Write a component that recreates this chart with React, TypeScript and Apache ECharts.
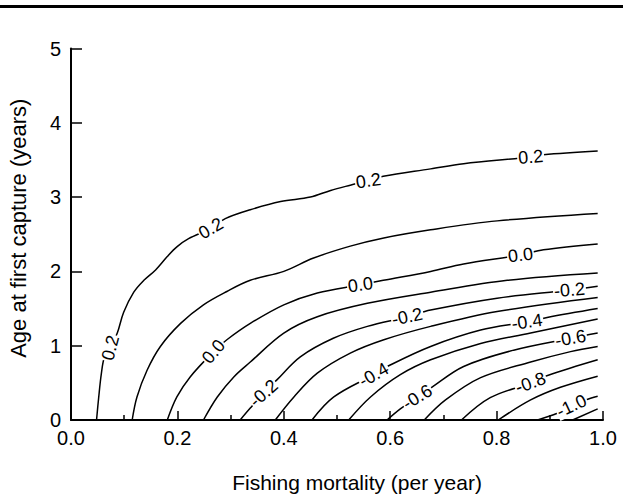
import React, { useEffect, useRef } from "react";
import * as echarts from "echarts";

// Contour lines: [fishing mortality, age at first capture]
const level_p02 = [[0.048,0],[0.052,0.30],[0.057,0.62],[0.063,0.85],[0.074,0.97],[0.087,1.17],[0.099,1.45],[0.118,1.72],[0.137,1.88],[0.159,2.02],[0.181,2.2],[0.199,2.33],[0.221,2.44],[0.263,2.58],[0.29,2.71],[0.337,2.83],[0.394,2.94],[0.45,3.0],[0.488,3.09],[0.525,3.16],[0.559,3.22],[0.587,3.28],[0.676,3.38],[0.738,3.45],[0.864,3.54],[0.888,3.57],[0.99,3.62]];
const level_p01 = [[0.115,0],[0.124,0.31],[0.143,0.67],[0.168,0.99],[0.206,1.30],[0.249,1.55],[0.293,1.73],[0.337,1.88],[0.400,2.00],[0.456,2.18],[0.525,2.34],[0.588,2.45],[0.676,2.56],[0.801,2.68],[0.99,2.78]];
const level_000 = [[0.181,0],[0.199,0.31],[0.224,0.58],[0.268,0.92],[0.293,1.08],[0.337,1.30],[0.400,1.55],[0.463,1.71],[0.544,1.82],[0.587,1.88],[0.676,2.00],[0.738,2.10],[0.845,2.22],[0.888,2.29],[0.99,2.37]];
const level_m01 = [[0.249,0],[0.275,0.31],[0.306,0.58],[0.337,0.78],[0.400,1.17],[0.463,1.39],[0.557,1.57],[0.676,1.72],[0.820,1.88],[0.99,1.98]];
const level_m02 = [[0.318,0],[0.337,0.16],[0.362,0.36],[0.387,0.54],[0.431,0.85],[0.493,1.10],[0.557,1.26],[0.632,1.39],[0.676,1.48],[0.801,1.64],[0.937,1.75],[0.99,1.80]];
const level_m03 = [[0.384,0],[0.419,0.31],[0.463,0.63],[0.525,0.90],[0.588,1.08],[0.676,1.26],[0.801,1.46],[0.99,1.65]];
const level_m04 = [[0.453,0],[0.494,0.31],[0.569,0.61],[0.600,0.74],[0.676,0.99],[0.770,1.21],[0.857,1.32],[0.895,1.38],[0.99,1.50]];
const level_m05 = [[0.522,0],[0.563,0.31],[0.619,0.61],[0.676,0.81],[0.770,1.03],[0.864,1.17],[0.99,1.36]];
const level_m06 = [[0.594,0],[0.619,0.15],[0.651,0.31],[0.676,0.43],[0.738,0.72],[0.832,0.94],[0.939,1.10],[0.99,1.17]];
const level_m07 = [[0.664,0],[0.704,0.27],[0.770,0.57],[0.864,0.78],[0.939,0.92],[0.99,0.99]];
const level_m08 = [[0.734,0],[0.788,0.30],[0.864,0.50],[0.888,0.58],[0.939,0.70],[0.99,0.81]];
const level_m09 = [[0.803,0],[0.864,0.27],[0.920,0.44],[0.99,0.59]];
const level_m10 = [[0.877,0],[0.914,0.09],[0.941,0.19],[0.967,0.27],[0.99,0.32]];
const level_m11 = [[0.943,0],[0.99,0.15]];

const contourLines = [level_p02, level_p01, level_000, level_m01, level_m02, level_m03, level_m04, level_m05, level_m06, level_m07, level_m08, level_m09, level_m10, level_m11];

// Contour labels
const labelText = ["0.2","0.2","0.2","0.2","0.0","0.0","0.0","-0.2","-0.2","-0.2","-0.4","-0.4","-0.6","-0.6","-0.8","-1.0"];
const labelX = [0.074,0.263,0.559,0.864,0.268,0.544,0.845,0.362,0.632,0.937,0.569,0.857,0.651,0.939,0.864,0.941];
const labelY = [0.97,2.58,3.22,3.54,0.92,1.82,2.22,0.36,1.39,1.75,0.61,1.32,0.31,1.10,0.50,0.19];
const labelAngle = [75,30,8,5,50,8,7,42,12,5,30,8,32,10,20,25];

const xTicks = [0, 0.2, 0.4, 0.6, 0.8, 1.0];
const yTicks = [0, 1, 2, 3, 4, 5];

const FONT = "'Liberation Sans', Arial, Helvetica, sans-serif";

export default function App() {
  const ref = useRef<HTMLDivElement>(null);
  useEffect(() => {
    document.body.style.margin = "0";
    const chart = echarts.init(ref.current!, null, { renderer: "svg" });
    const lineSeries = contourLines.map((pts) => ({
      type: "line",
      data: pts,
      showSymbol: false,
      symbol: "none",
      smooth: 0.35,
      lineStyle: { color: "#000", width: 1.5 },
      z: 2,
      silent: true,
    }));
    const labelSeries = {
      type: "scatter",
      symbol: "circle",
      symbolSize: 0,
      itemStyle: { color: "rgba(0,0,0,0)" },
      z: 5,
      silent: true,
      data: labelText.map((t, i) => ({
        value: [labelX[i], labelY[i]],
        name: t,
        label: { rotate: labelAngle[i] },
      })),
      label: {
        show: true,
        position: "inside",
        formatter: (p: any) => p.name,
        color: "#000",
        opacity: 1,
        textBorderWidth: 0,
        fontSize: 18,
        fontFamily: FONT,
        backgroundColor: "#fff",
        padding: [0, 1, 0, 1],
      },
    };
    chart.setOption({
      animation: false,
      backgroundColor: "#fff",
      grid: { left: 71, right: 20, top: 48.5, bottom: 77, containLabel: false, outerBoundsMode: "none" },
      xAxis: {
        type: "value",
        min: xTicks[0],
        max: xTicks[xTicks.length - 1],
        interval: 0.2,
        name: "Fishing mortality (per year)",
        nameLocation: "middle",
        nameGap: 52,
        nameTextStyle: { fontSize: 21, fontFamily: FONT, color: "#000", padding: [0, 0, 0, 40] },
        axisLine: { show: true, onZero: false, lineStyle: { color: "#000", width: 2 } },
        axisTick: { show: true, inside: true, length: 9, lineStyle: { color: "#000", width: 1.5 } },
        minorTick: { show: true, splitNumber: 2, length: 5, lineStyle: { color: "#000", width: 1.5 } },
        splitLine: { show: false },
        axisLabel: { fontSize: 20, fontFamily: FONT, color: "#000", margin: 8, formatter: (v: number) => v.toFixed(1) },
      },
      yAxis: {
        type: "value",
        min: yTicks[0],
        max: yTicks[yTicks.length - 1],
        interval: 1,
        name: "Age at first capture (years)",
        nameLocation: "middle",
        nameGap: 42,
        nameTextStyle: { fontSize: 22, fontFamily: FONT, color: "#000", padding: [0, 0, 0, 12] },
        axisLine: { show: true, onZero: false, lineStyle: { color: "#000", width: 2 } },
        axisTick: { show: true, inside: true, length: 11, lineStyle: { color: "#000", width: 1.5 } },
        splitLine: { show: false },
        axisLabel: { fontSize: 20, fontFamily: FONT, color: "#000", margin: 10 },
      },
      graphic: [
        { type: "rect", shape: { x: 0, y: 5, width: 623, height: 3 }, style: { fill: "#000" } },
      ],
      series: [...lineSeries, labelSeries],
    });
    return () => chart.dispose();
  }, []);
  return <div ref={ref} style={{ width: 623, height: 497 }} />;
}
